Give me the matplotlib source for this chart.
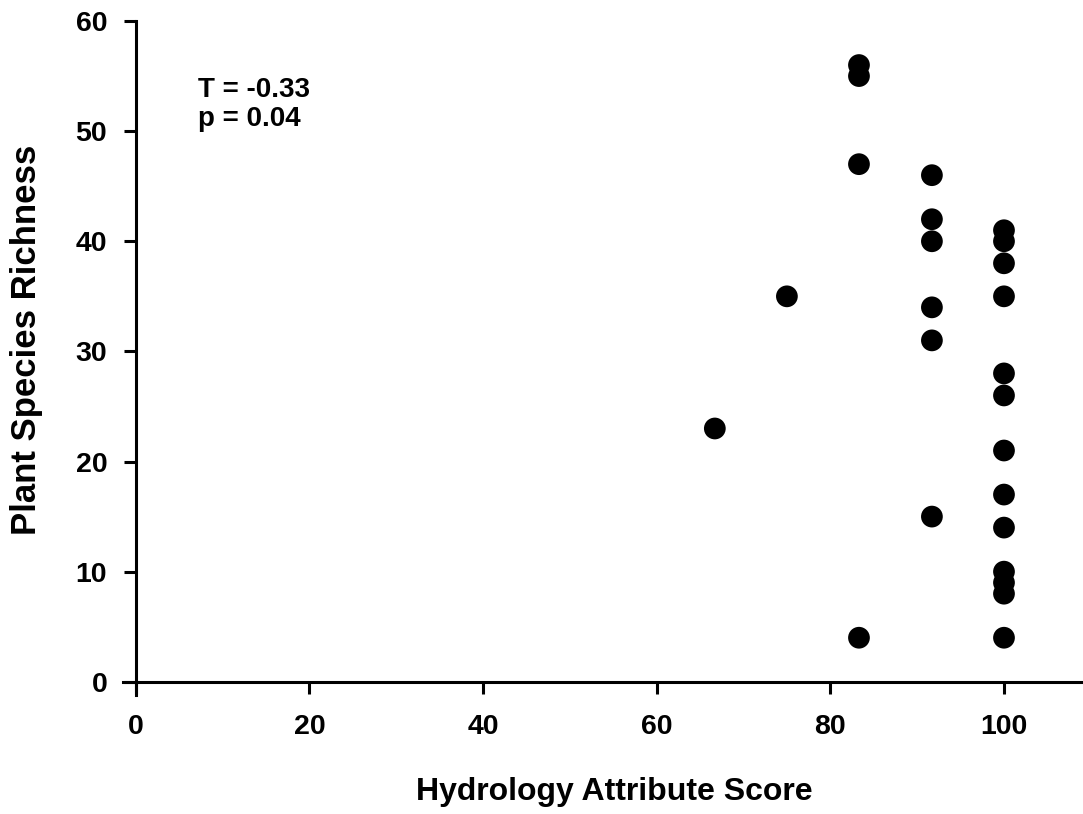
import matplotlib
matplotlib.use("Agg")
import matplotlib.pyplot as plt

# Data
x_score = [66.7, 75.0,
           83.3, 83.3, 83.3, 83.3,
           91.7, 91.7, 91.7, 91.7, 91.7, 91.7,
           100, 100, 100, 100, 100, 100, 100, 100, 100, 100, 100, 100, 100]
y_richness = [23, 35,
              56, 55, 47, 4,
              46, 42, 40, 34, 31, 15,
              41, 40, 38, 35, 28, 26, 21, 17, 14, 10, 9, 8, 4]
x_ticks = [0, 20, 40, 60, 80, 100]
y_ticks = [0, 10, 20, 30, 40, 50, 60]
stat_text = "T = -0.33\np = 0.04"

plt.rcParams['font.family'] = ['Liberation Sans', 'DejaVu Sans']
plt.rcParams['font.weight'] = 'bold'

fig = plt.figure(figsize=(10.83, 8.14), dpi=100)
ax = fig.add_axes([123.5/1083, 119/814, (1083-123.5)/1083, (695-21)/814])

ax.scatter(x_score, y_richness, s=245, c='black', edgecolors='none', zorder=3)

ax.set_xlim(-1.4, 109.1)
ax.set_ylim(-1.2, 60)
ax.spines['left'].set_position(('data', 0))
ax.spines['bottom'].set_position(('data', 0))
ax.spines['right'].set_visible(False)
ax.spines['top'].set_visible(False)
for sp in ('left', 'bottom'):
    ax.spines[sp].set_linewidth(2.2)

ax.set_xticks(x_ticks)
ax.set_yticks(y_ticks)
ax.tick_params(direction='out', length=8.5, width=2.2, labelsize=20.5)
ax.tick_params(axis='x', pad=15)
ax.tick_params(axis='y', pad=12)
for lab in ax.get_xticklabels() + ax.get_yticklabels():
    lab.set_fontweight('bold')

ax.text(7.2, 54.9, stat_text, fontsize=20, fontweight='bold', va='top', ha='left',
        linespacing=1.15)

fig.text(27/1083, (814-340)/814, 'Plant Species Richness', rotation=90, fontsize=25,
         fontweight='bold', ha='center', va='center')
fig.text((418+810)/2/1083, (814-792)/814, 'Hydrology Attribute Score', fontsize=23,
         fontweight='bold', ha='center', va='center')

fig.savefig('out.png', dpi=100)
